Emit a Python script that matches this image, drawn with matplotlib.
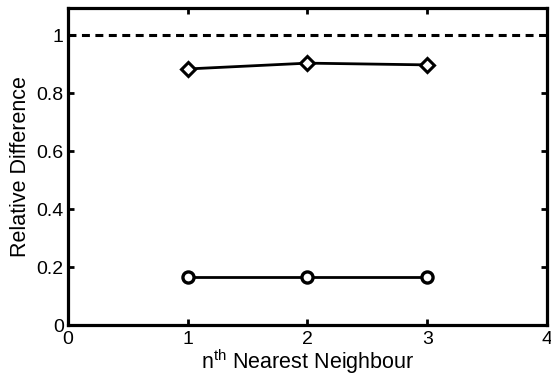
import matplotlib
matplotlib.use("Agg")
import matplotlib.pyplot as plt

plt.rcParams['font.family'] = ['Liberation Sans', 'DejaVu Sans']
plt.rcParams['mathtext.fontset'] = 'custom'
plt.rcParams['mathtext.rm'] = 'Liberation Sans'
plt.rcParams['mathtext.default'] = 'regular'

# data
neighbour = [1, 2, 3]
diamond_vals = [0.883, 0.903, 0.897]
circle_vals = [0.167, 0.167, 0.167]
reference_level = 1.0
x_ticks = [0, 1, 2, 3, 4]
y_ticks = [0, 0.2, 0.4, 0.6, 0.8, 1]
y_ticklabels = ['0', '0.2', '0.4', '0.6', '0.8', '1']

fig = plt.figure(figsize=(5.51, 3.83), dpi=100)
ax = fig.add_axes([0.1234, 0.1514, 0.8693, 0.8276])

ax.axhline(reference_level, color='black', lw=2.2, ls=(0, (2.6, 1.8)))
ax.plot(neighbour, diamond_vals, color='black', lw=2, marker='D', ms=7,
        mfc='white', mec='black', mew=2.2)
ax.plot(neighbour, circle_vals, color='black', lw=2, marker='o', ms=8,
        mfc='white', mec='black', mew=2.4)

ax.set_xlim(0, 4)
ax.set_ylim(0, 1.093)
ax.set_xticks(x_ticks)
ax.set_yticks(y_ticks)
ax.set_yticklabels(y_ticklabels)
ax.tick_params(direction='in', length=4, width=2, top=True, right=True,
               labelsize=14)
ax.tick_params(axis='x', pad=4)
ax.tick_params(axis='y', pad=3)
for s in ax.spines.values():
    s.set_linewidth(2.3)

ax.set_xlabel('n$^{th}$ Nearest Neighbour', fontsize=15.5, labelpad=0)
ax.set_ylabel('Relative Difference', fontsize=15.5, labelpad=4)

fig.savefig('out.png', dpi=100)
